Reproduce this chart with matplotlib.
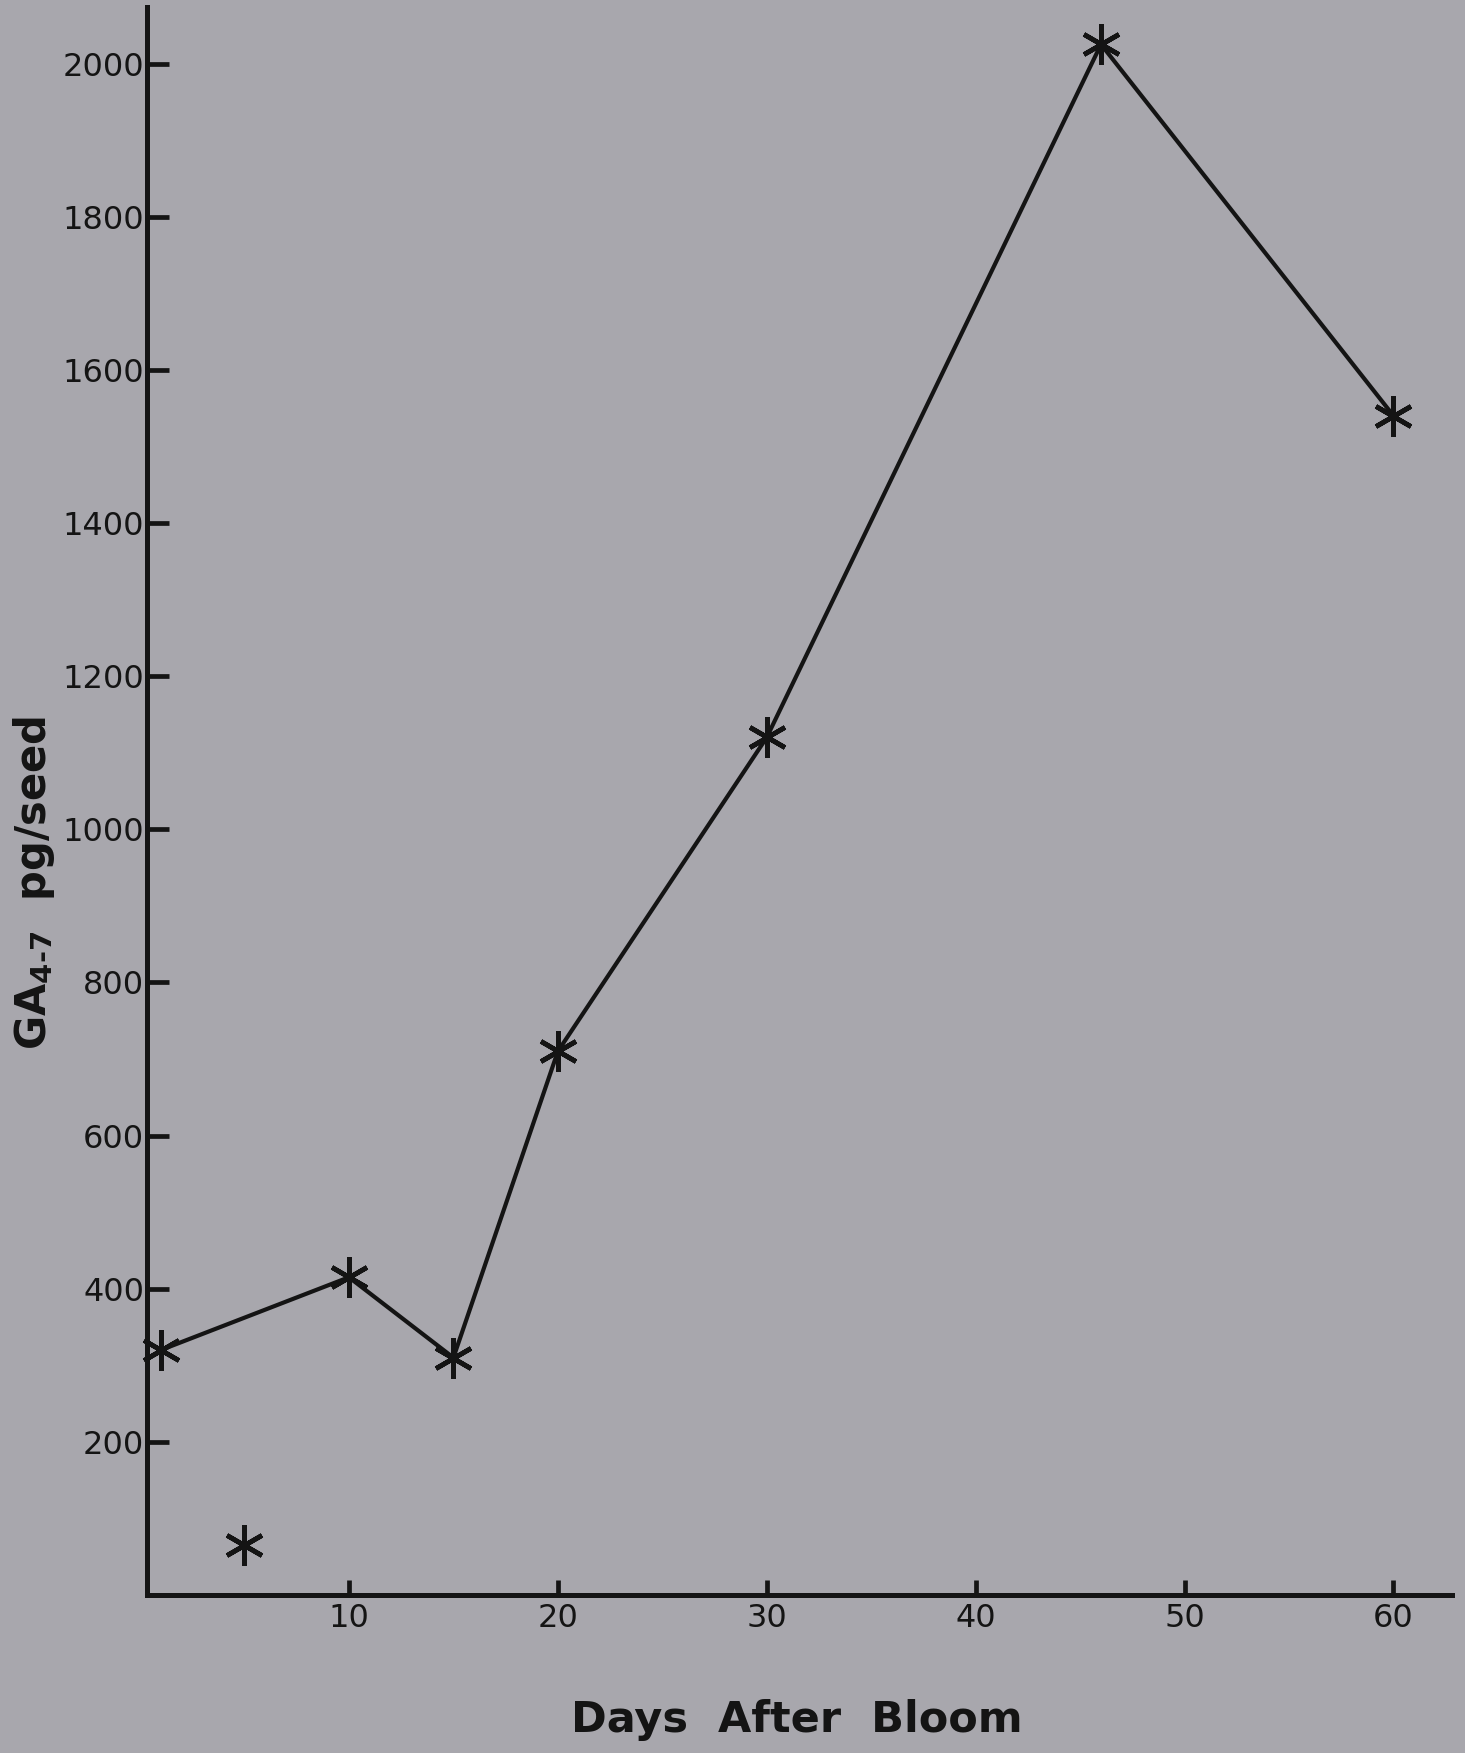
import matplotlib
matplotlib.use("Agg")
import matplotlib.pyplot as plt

# GA4-7 content of seeds
days = [1, 10, 15, 20, 30, 46, 60]
ga_pg_per_seed = [320, 415, 310, 710, 1120, 2025, 1540]

# lone point below the curve (not joined)
extra_day = [5]
extra_value = [65]

x_ticks = [10, 20, 30, 40, 50, 60]
y_ticks = [200, 400, 600, 800, 1000, 1200, 1400, 1600, 1800, 2000]

BG = "#a8a7ad"
INK = "#141414"
ASTERISK = (6, 2, 0)


def main() -> None:
    plt.rcParams["mathtext.fontset"] = "dejavusans"
    fig = plt.figure(figsize=(14.65, 17.53), dpi=100, facecolor=BG)
    ax = fig.add_axes([0.1003, 0.0901, 0.8908, 0.906])
    ax.set_facecolor(BG)

    ax.plot(days, ga_pg_per_seed, color=INK, lw=3.0, marker=ASTERISK,
            markersize=29, markeredgewidth=3.4, clip_on=False, zorder=3)
    ax.plot(extra_day, extra_value, ls="none", color=INK, marker=ASTERISK,
            markersize=29, markeredgewidth=3.4, clip_on=False, zorder=3)

    ax.set_xlim(0.33, 62.8)
    ax.set_ylim(0, 2074)
    ax.set_xticks(x_ticks)
    ax.set_yticks(y_ticks)

    for side in ["top", "right"]:
        ax.spines[side].set_visible(False)
    for side in ["left", "bottom"]:
        ax.spines[side].set_linewidth(3.6)
        ax.spines[side].set_color(INK)

    ax.tick_params(axis="y", direction="in", length=16, width=3.4, pad=2,
                   labelsize=23, colors=INK)
    ax.tick_params(axis="x", direction="in", length=11, width=3.4, pad=6,
                   labelsize=23, colors=INK)

    fig.text(0.0232, 0.4963, "GA$_{\\mathbf{4\u20107}}$  pg/seed", rotation=90,
             ha="center", va="center", fontsize=30, fontweight="bold", color=INK)
    fig.text(0.544, 0.0188, "Days  After  Bloom", ha="center", va="center",
             fontsize=31, fontweight="bold", color=INK)

    fig.savefig("out.png", dpi=100, facecolor=BG)
    plt.close(fig)


if __name__ == "__main__":
    main()
